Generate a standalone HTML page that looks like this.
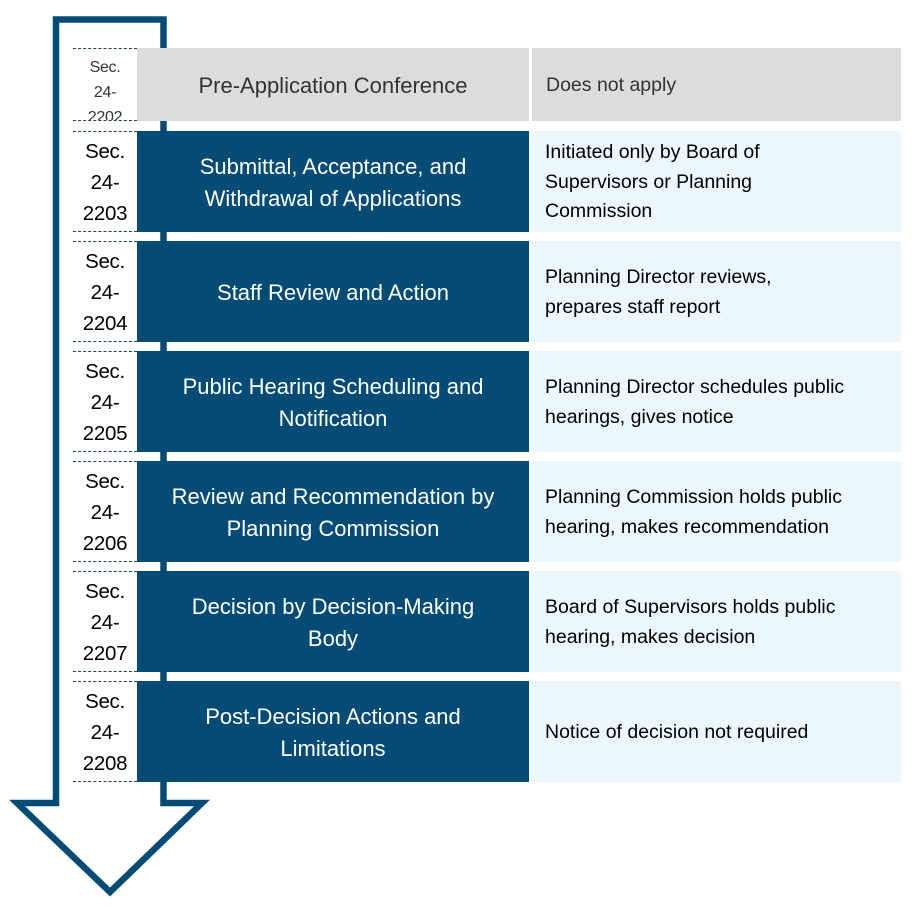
<!DOCTYPE html>
<html><head><meta charset="utf-8"><style>
body{margin:0;width:919px;height:915px;background:#fff;position:relative;overflow:hidden;font-family:"Liberation Sans",sans-serif}
.a{position:absolute;box-sizing:border-box}
.lab{left:73px;width:64px;border-top:1.5px dashed #1f3f66;border-bottom:1.5px dashed #1f3f66;background:#fff;text-align:center;color:#000;font-size:20.5px;line-height:31px;overflow:hidden;padding-top:4px;letter-spacing:-0.3px}
.mid{left:137px;width:392px;background:#044b76;color:#fff;font-size:22px;line-height:32px;display:flex;align-items:center;justify-content:center;text-align:center;padding-top:2px}
.rt{left:531px;width:370px;background:#ebf6fd;color:#000;font-size:19.5px;line-height:29.5px;display:flex;align-items:center;padding-left:14px;padding-top:2px}
</style></head><body>
<svg class="a" style="left:0;top:0" width="919" height="915">
<path d="M56 19.5 H163.5 V803 H202 L110 892 L17 803 H56 Z" fill="#fff" stroke="#044b76" stroke-width="6.5" stroke-linejoin="miter"/>
</svg>

<div class="a lab" style="top:48px;height:73px;font-size:16px;line-height:25px;color:#333;padding-top:6px">Sec.<br>24-<br>2202</div>
<div class="a mid" style="top:48px;height:73px;background:#dcdcdc;color:#333">Pre-Application Conference</div>
<div class="a rt" style="top:48px;height:73px;background:#dcdcdc;color:#333;left:532px;width:369px">Does not apply</div>

<div class="a lab" style="top:131px;height:101px">Sec.<br>24-<br>2203</div>
<div class="a mid" style="top:131px;height:101px">Submittal, Acceptance, and<br>Withdrawal of Applications</div>
<div class="a rt" style="top:131px;height:101px">Initiated only by Board of<br>Supervisors or Planning<br>Commission</div>

<div class="a lab" style="top:241px;height:101px">Sec.<br>24-<br>2204</div>
<div class="a mid" style="top:241px;height:101px">Staff Review and Action</div>
<div class="a rt" style="top:241px;height:101px">Planning Director reviews,<br>prepares staff report</div>

<div class="a lab" style="top:351px;height:101px">Sec.<br>24-<br>2205</div>
<div class="a mid" style="top:351px;height:101px">Public Hearing Scheduling and<br>Notification</div>
<div class="a rt" style="top:351px;height:101px">Planning Director schedules public<br>hearings, gives notice</div>

<div class="a lab" style="top:461px;height:101px">Sec.<br>24-<br>2206</div>
<div class="a mid" style="top:461px;height:101px">Review and Recommendation by<br>Planning Commission</div>
<div class="a rt" style="top:461px;height:101px">Planning Commission holds public<br>hearing, makes recommendation</div>

<div class="a lab" style="top:571px;height:101px">Sec.<br>24-<br>2207</div>
<div class="a mid" style="top:571px;height:101px">Decision by Decision-Making<br>Body</div>
<div class="a rt" style="top:571px;height:101px">Board of Supervisors holds public<br>hearing, makes decision</div>

<div class="a lab" style="top:681px;height:101px">Sec.<br>24-<br>2208</div>
<div class="a mid" style="top:681px;height:101px">Post-Decision Actions and<br>Limitations</div>
<div class="a rt" style="top:681px;height:101px">Notice of decision not required</div>
</body></html>
